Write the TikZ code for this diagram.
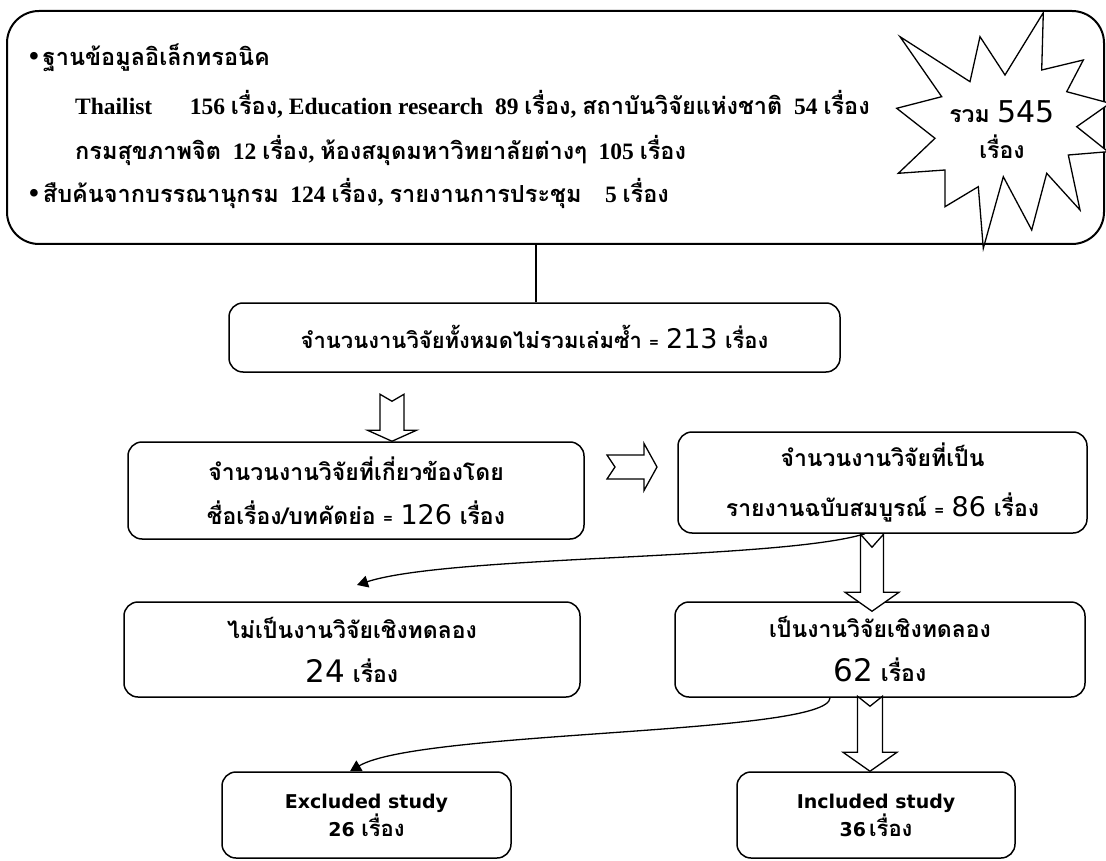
\documentclass[tikz,border=0pt]{standalone}
\usepackage{fontspec}
\setmainfont{Liberation Serif}
\newfontfamily\thf[Script=Thai]{Loma}
\newfontfamily\numf{DejaVu Sans}
\usetikzlibrary{arrows.meta,calc}
\newcommand\tx[1]{{\thf #1}}
\newcommand\TT{\fontsize{23.5}{26}\selectfont\bfseries}
\newcommand\TB{\fontsize{23}{44}\selectfont\thf\bfseries}
\newcommand\TBs{\fontsize{22}{44}\selectfont\thf\bfseries}
\newcommand\TS{\fontsize{19}{28}\selectfont\numf\bfseries}
\newcommand\N[2]{{\fontsize{#1}{#1}\selectfont\numf\mdseries #2}}
\newcommand\EQ{{\fontsize{16}{16}\selectfont =}}
\newcommand\BL{{\fontsize{28}{20}\selectfont\textbullet}}
\newcommand\RT{{\fontsize{22}{22}\selectfont\thf\bfseries เรื่อง}}
% down block arrow: tip, length, head length, half head, half shaft, notch
\newcommand\chevdown[6]{%
  \draw[blockarrow] (#1) -- ++(#4,-#3) -- ++(#5-#4,0) -- ++(0,#3-#2)
    -- ++(-#5,#6) -- ++(-#5,-#6) -- ++(0,#2-#3) -- ++(#5-#4,0) -- cycle;}
\begin{document}
\begin{tikzpicture}[x=1pt,y=-1pt,
  box/.style={draw,line width=1.5pt,rounded corners=14pt,inner sep=0pt,align=center,font=\TB},
  blockarrow/.style={draw,line width=1.3pt,fill=white,line join=miter},
  conn/.style={line width=1.3pt,-{Triangle[length=11pt,width=12pt]}},
  txt/.style={inner sep=0pt,anchor=west,font=\TT},
  burst/.style={draw,line width=1.3pt,fill=white,line join=miter}]
\useasboundingbox (0,0) rectangle (1106,861);

% top box
\node[box,rounded corners=32pt,line width=2pt,minimum width=1097pt,minimum height=233pt] (top) at (555.5,127.5) {};
\node[txt] (l1) at (29,58) {\BL\,\tx{ฐานข้อมูลอิเล็กทรอนิค}};
\node[txt] (l2) at (75,104) {Thailist\hspace{1.6em}156 \tx{เรื่อง}, Education research\hspace{0.5em}89 \tx{เรื่อง}, \tx{สถาบันวิจัยแห่งชาติ}\hspace{0.5em}54 \tx{เรื่อง}};
\node[txt] (l3) at (75,150) {\tx{กรมสุขภาพจิต}\hspace{0.5em}12 \tx{เรื่อง}, \tx{ห้องสมุดมหาวิทยาลัยต่างๆ}\hspace{0.5em}105 \tx{เรื่อง}};
\node[txt] (l4) at (29,193) {\BL\,\tx{สืบค้นจากบรรณานุกรม}\hspace{0.5em}124 \tx{เรื่อง}, \tx{รายงานการประชุม}\hspace{1em}5 \tx{เรื่อง}};

% starburst
\draw[burst] (1043.3,12.7) -- (1005,75) -- (980,36.7) -- (970,81.7) -- (900,36.7)
  -- (941.7,96.7) -- (896.7,108.3) -- (935,138.3) -- (898.3,173.3) -- (945,170)
  -- (945,206.7) -- (978.3,186.7) -- (983.3,248.3) -- (1003.3,176.7) -- (1031.7,230)
  -- (1046.7,173.3) -- (1080,210) -- (1068.3,155) -- (1108,151.7) -- (1076.7,126.7)
  -- (1110,103.3) -- (1066.7,91.7) -- (1083.3,60) -- (1041.7,70) -- cycle;
\node[inner sep=0pt,align=center,font=\TB] (sum) at (1002,130) {รวม \N{30}{545}\\[-8pt] เรื่อง};

% boxes of the flow
\node[box,font=\TBs,minimum width=611pt,minimum height=69pt] (b2) at (534.5,337.5)
  {จำนวนงานวิจัยทั้งหมดไม่รวมเล่มซ้ำ \EQ\ \N{27}{213} เรื่อง};
\node[box,minimum width=456pt,minimum height=97pt] (b3) at (356,490.5)
  {จำนวนงานวิจัยที่เกี่ยวข้องโดย\\ ชื่อเรื่อง/บทคัดย่อ \EQ\ \N{27}{126} เรื่อง};
\node[box,minimum width=409pt,minimum height=101pt] (b5) at (882.5,482.5)
  {จำนวนงานวิจัยที่เป็น\\[6pt] รายงานฉบับสมบูรณ์ \EQ\ \N{27}{86}\ เรื่อง};
\node[box,minimum width=456pt,minimum height=95pt] (b4) at (352,649.5)
  {ไม่เป็นงานวิจัยเชิงทดลอง\\ \N{31}{24} เรื่อง};
\node[box,minimum width=410pt,minimum height=95pt] (b6) at (880,649.5)
  {เป็นงานวิจัยเชิงทดลอง\\ \N{31}{62}\ เรื่อง};
\node[box,font=\TS,minimum width=289pt,minimum height=86pt] (b7) at (366.5,815)
  {Excluded study\\ 26 \RT};
\node[box,font=\TS,minimum width=278pt,minimum height=86pt] (b8) at (876,815)
  {Included study\\ 36\,\RT};

% connectors
\draw[line width=1.5pt] (536,0 |- top.south) -- (536,0 |- b2.north);
\chevdown{392,0 |- b3.north}{47}{11}{24.5}{12}{7}
\chevdown{$(872,0 |- b6.north)+(0,10)$}{77}{19}{27}{11.5}{13}
\chevdown{870,0 |- b8.north}{75}{19}{27}{12.5}{10}
\coordinate (rc) at (657,467);
\draw[blockarrow] (rc) -- ++(-13,-23.5) -- ++(0,11.5) -- ++(-37,0) -- ++(8,12)
  -- ++(-8,12) -- ++(37,0) -- ++(0,11.5) -- cycle;
\coordinate (t1) at (357,585);
\draw[conn] (865,0 |- b5.south) .. controls (780,560) and (450,555) .. (t1);
\draw[conn] (830,0 |- b6.south) .. controls (830,735) and (420,730) .. (350,0 |- b7.north);
\end{tikzpicture}
\end{document}
